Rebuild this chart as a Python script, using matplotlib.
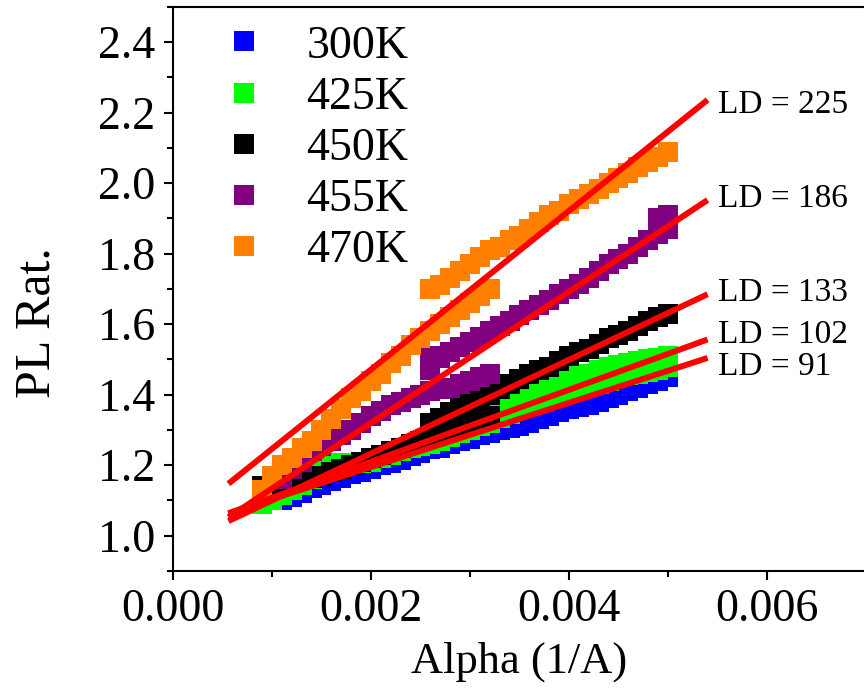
import numpy as np
import matplotlib
matplotlib.use("Agg")
import matplotlib.pyplot as plt
from matplotlib.lines import Line2D
from matplotlib.ticker import MultipleLocator, FormatStrFormatter

plt.rcParams['font.family'] = ['Liberation Serif', 'DejaVu Serif']

N = np.nan

# common alpha grid (1/A)
alpha = [0.0009, 0.0010, 0.0011, 0.0012, 0.0013, 0.0014, 0.0015, 0.0016, 0.0017,
         0.0018, 0.0019, 0.0020, 0.0021, 0.0022, 0.0023, 0.0024, 0.0025, 0.0026,
         0.0027, 0.0028, 0.0029, 0.0030, 0.0031, 0.0032, 0.0033, 0.0034, 0.0035,
         0.0036, 0.0037, 0.0038, 0.0039, 0.0040, 0.0041, 0.0042, 0.0043, 0.0044,
         0.0045, 0.0046, 0.0047, 0.0048, 0.0049, 0.0050]

# PL ratio, one list per measurement sweep (NaN where a sweep has no point)
pl_300K = [
    [N, N, 1.10, 1.11, 1.12, 1.135, 1.145, 1.155, 1.165, 1.175, 1.18, 1.19, 1.20,
     1.205, 1.215, 1.225, 1.235, 1.245, 1.25, 1.26, 1.27, 1.275, 1.285, 1.29, 1.30,
     1.305, 1.31, 1.32, 1.33, 1.34, 1.35, 1.36, 1.365, 1.37, 1.38, 1.39, 1.40, 1.41,
     1.42, 1.43, 1.44, 1.45],
]
pl_425K = [
    [1.09, 1.10, 1.115, 1.13, 1.145, 1.16, 1.19, 1.20, 1.205, 1.20, 1.205, 1.21,
     1.22, 1.23, 1.24, 1.25, 1.255, 1.26, 1.27, 1.28, 1.29, 1.30, 1.31, 1.32, 1.335,
     1.345, 1.36, 1.37, 1.38, 1.39, 1.40, 1.41, 1.415, 1.425, 1.43, 1.44, 1.45,
     1.455, 1.46, 1.465, 1.47, 1.48],
    [N] * 24 + [1.37, 1.38, 1.395, 1.41, 1.42, 1.43, 1.44, 1.45, 1.455, 1.46, 1.47,
                1.48, 1.485, 1.49, 1.495, 1.50, 1.505, 1.51],
]
pl_450K = [
    [1.14, 1.145, 1.15, 1.155, 1.16, 1.165, 1.17, 1.18, 1.19, 1.20, 1.21, 1.22,
     1.23, 1.24, 1.25, 1.26, 1.27, 1.28, 1.29, 1.30, 1.31, 1.32, 1.33, 1.34] + [N] * 18,
    [N] * 17 + [1.32, 1.335, 1.35, 1.365, 1.38, 1.39, 1.40, 1.415, 1.43, 1.445, 1.46,
                1.47, 1.48, 1.495, 1.51, 1.52, 1.53, 1.545, 1.56, 1.57, 1.58, 1.595,
                1.61, 1.62, 1.63],
]
pl_455K = [
    [N, N, 1.16, 1.19, 1.21, 1.24, 1.255, 1.27, 1.285, 1.30, 1.32, 1.34, 1.355, 1.37,
     1.38, 1.39, 1.40, 1.41, 1.415, 1.42, 1.43, 1.44, 1.45, 1.46] + [N] * 18,
    [N] * 17 + [1.51, 1.505, 1.52, 1.535, 1.55, 1.565, 1.58, 1.595, 1.61, 1.625, 1.64,
                1.655, 1.67, 1.685, 1.70, 1.715, 1.73, 1.75, 1.77, 1.785, 1.80, 1.82,
                1.84, 1.855, 1.87],
    [N] * 17 + [1.47] + [N] * 22 + [1.90, 1.91],
]
pl_470K = [
    [1.13, 1.17, 1.20, 1.22, 1.25, 1.27, 1.30, 1.33, 1.36, 1.39, 1.41, 1.44, 1.46,
     1.49, 1.51, 1.54, 1.56, 1.58, 1.60, 1.62, 1.64, 1.66, 1.68, 1.70] + [N] * 18,
    [N] * 17 + [1.70, 1.71, 1.73, 1.75, 1.77, 1.79, 1.81, 1.82, 1.84, 1.85, 1.87,
                1.89, 1.91, 1.92, 1.94, 1.955, 1.97, 1.985, 2.00, 2.015, 2.03, 2.045,
                2.06, 2.075, 2.09],
]

labels = ['300K', '425K', '450K', '455K', '470K']
colors = ['#0000FF', '#00FF00', '#000000', '#800080', '#FF8000']
series = [pl_300K, pl_425K, pl_450K, pl_455K, pl_470K]

# linear fits: slope (LD) and intercept, drawn over the fit range
fit_ld = [91, 102, 133, 186, 225]
fit_b = [1.013, 1.006, 0.967, 0.948, 1.0215]
fit_range = [0.00056, 0.0054]
ld_label_y = [1.478, 1.569, 1.688, 1.957, 2.224]
ld_label_x = 0.00551

fig = plt.figure(figsize=(8.64, 6.91), dpi=100)
ax = fig.add_axes([0.2002, 0.1737, 0.8021, 0.8162])

msize = 14
for sweeps, c in zip(series, colors):
    for ys in sweeps:
        ax.plot(alpha, ys, linestyle='none', marker='s', markersize=msize,
                markerfacecolor=c, markeredgewidth=0, color=c)

xr = np.array(fit_range)
for ld, b in zip(fit_ld, fit_b):
    ax.plot(xr, b + ld * xr, color='#FF0000', linewidth=4.3, solid_capstyle='butt')

for ld, ty in zip(fit_ld, ld_label_y):
    ax.text(ld_label_x, ty, 'LD = %d' % ld, fontsize=24, va='center', ha='left')

ax.set_xlim(0, 0.007)
ax.set_ylim(0.9, 2.5)
ax.xaxis.set_major_locator(MultipleLocator(0.002))
ax.xaxis.set_minor_locator(MultipleLocator(0.001))
ax.yaxis.set_major_locator(MultipleLocator(0.2))
ax.yaxis.set_minor_locator(MultipleLocator(0.1))
ax.xaxis.set_major_formatter(FormatStrFormatter('%.3f'))
ax.yaxis.set_major_formatter(FormatStrFormatter('%.1f'))
ax.set_yticks([1.0, 1.2, 1.4, 1.6, 1.8, 2.0, 2.2, 2.4])

ax.tick_params(which='both', direction='out', top=False, right=False, width=1.5)
ax.tick_params(which='major', length=6.5, labelsize=33, pad=6)
ax.tick_params(which='minor', length=4.3)
for sp in ax.spines.values():
    sp.set_linewidth(1.5)

ax.set_xlabel('Alpha (1/A)', fontsize=32)
ax.set_ylabel('PL Rat.', fontsize=36)
ax.xaxis.set_label_coords(0.5, -0.125)
ax.yaxis.set_label_coords(-0.163, 0.44)

handles = [Line2D([], [], linestyle='none', marker='s', markersize=msize,
                  markerfacecolor=c, markeredgewidth=0) for c in colors]
ax.legend(handles, labels, loc='upper left', bbox_to_anchor=(0.07, 0.968),
          frameon=False, fontsize=33, handlelength=1.0, handletextpad=0.85,
          labelspacing=0.19, borderpad=0, borderaxespad=0, numpoints=1)

fig.savefig('out.png', dpi=100)
